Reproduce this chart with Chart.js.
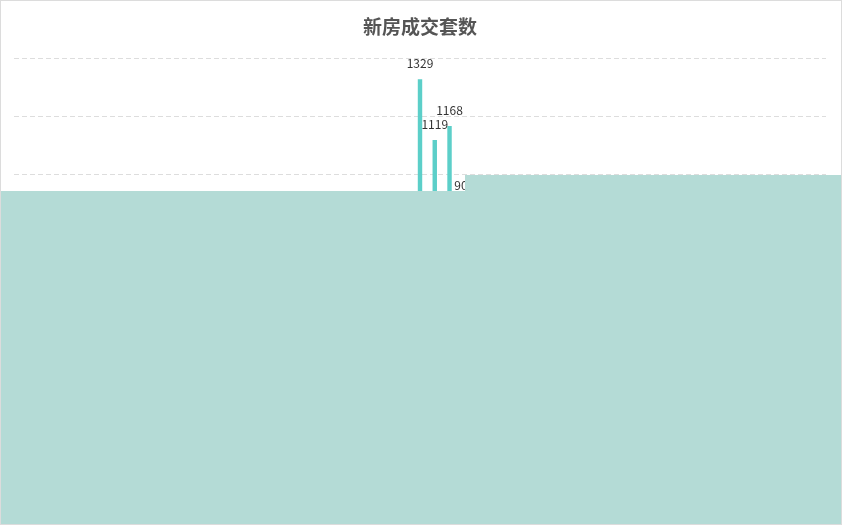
<!DOCTYPE html>
<html>
<head>
<meta charset="utf-8">
<script src="https://cdn.jsdelivr.net/npm/chart.js@4.4.1/dist/chart.umd.min.js"></script>
<style>
    html, body { margin: 0; padding: 0; background: #fff; }
    #wrap { position: relative; width: 842px; height: 525px; box-sizing: border-box; border: 1px solid #dcdcdc; overflow: hidden; }
    #salesChart { display: block; }
    .cover { position: absolute; background: #b4dbd6; }
</style>
</head>
<body>
<div id="wrap">
    <canvas id="salesChart" width="840" height="523"></canvas>
    <div class="cover" style="left:464px; top:174px; right:0; height:20px;"></div>
    <div class="cover" style="left:0; top:190px; right:0; bottom:0;"></div>
</div>
<script>
const chartTitle = '新房成交套数';

const months = [
    '2019-01', '2019-02', '2019-03', '2019-04', '2019-05', '2019-06', '2019-07', '2019-08', '2019-09', '2019-10', '2019-11', '2019-12',
    '2020-01', '2020-02', '2020-03', '2020-04', '2020-05', '2020-06', '2020-07', '2020-08', '2020-09', '2020-10', '2020-11', '2020-12',
    '2021-01', '2021-02', '2021-03', '2021-04', '2021-05', '2021-06', '2021-07', '2021-08', '2021-09', '2021-10', '2021-11', '2021-12',
    '2022-01', '2022-02', '2022-03', '2022-04', '2022-05', '2022-06', '2022-07', '2022-08', '2022-09', '2022-10', '2022-11', '2022-12',
    '2023-01', '2023-02', '2023-03', '2023-04', '2023-05', '2023-06', '2023-07'
];

const deals = [
    612, 487, 705, 668, 733, 801, 754, 690, 721, 812, 779, 815,
    536, 402, 618, 795, 826, 808, 772, 741, 803, 816, 821, 829,
    645, 598, 812, 1329, 1119, 1168, 907, 876, 823, 794, 758, 702,
    685, 731, 664, 612, 579, 633, 688, 541, 498, 566, 603, 587,
    622, 574, 531, 559, 604, 578, 545
];

const yTicks = { min: 0, max: 1400, step: 200 };

// value labels above each bar
const barLabels = {
    id: 'barLabels',
    afterDatasetsDraw(chart) {
        const ctx = chart.ctx;
        const meta = chart.getDatasetMeta(0);
        ctx.save();
        ctx.font = '12px "Noto Sans CJK SC", "Noto Sans", sans-serif';
        ctx.fillStyle = '#333';
        ctx.textAlign = 'center';
        ctx.textBaseline = 'middle';
        meta.data.forEach(function (bar, i) {
            ctx.fillText(String(deals[i]), bar.x, bar.y - 15.5);
        });
        ctx.restore();
    }
};

const ctx = document.getElementById('salesChart').getContext('2d');
new Chart(ctx, {
    type: 'bar',
    data: {
        labels: months,
        datasets: [{
            label: chartTitle,
            data: deals,
            backgroundColor: '#5ccfc9',
            barPercentage: 0.3,
            categoryPercentage: 1
        }]
    },
    options: {
        responsive: false,
        animation: false,
        layout: { padding: { left: 13, right: 15, top: 0, bottom: 40 } },
        plugins: {
            legend: { display: false },
            tooltip: { enabled: false },
            title: {
                display: true,
                text: chartTitle,
                color: '#555',
                font: { size: 19, weight: 'bold', family: '"Noto Sans CJK SC", sans-serif' },
                padding: { top: 14, bottom: 21 }
            }
        },
        scales: {
            y: {
                min: yTicks.min,
                max: yTicks.max,
                ticks: { stepSize: yTicks.step, display: false },
                border: { display: false, dash: [5, 3] },
                grid: { color: '#dddddd', drawTicks: false }
            },
            x: {
                ticks: { color: '#666', maxRotation: 0, autoSkip: true, align: 'inner', font: { size: 12 } },
                border: { display: false },
                grid: { display: false, drawTicks: false }
            }
        }
    },
    plugins: [barLabels]
});
</script>
</body>
</html>
